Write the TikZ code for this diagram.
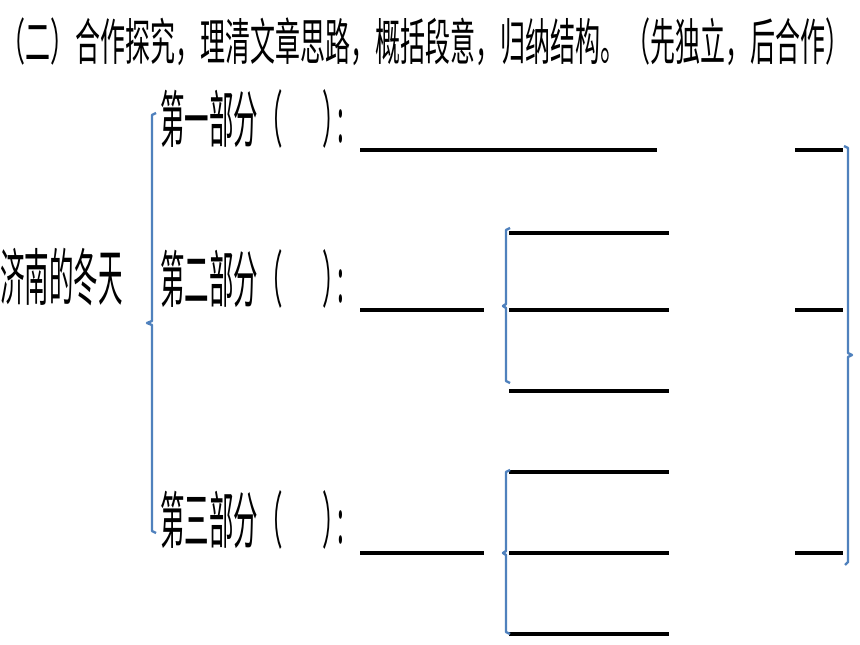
\documentclass[tikz,border=0pt]{standalone}
\usepackage{fontspec}
\newfontfamily\cjkT[FakeStretch=0.50]{Noto Sans CJK SC}
\newfontfamily\cjkL[FakeStretch=0.395]{Noto Sans CJK SC}
\definecolor{bracecol}{HTML}{4F81BD}
\begin{document}
\begin{tikzpicture}[x=1pt,y=-1pt,
  titletxt/.style={anchor=base west,inner sep=0pt,font=\cjkT\fontsize{50}{50}\selectfont},
  labtxt/.style={anchor=base west,inner sep=0pt,font=\cjkL\fontsize{62}{62}\selectfont},
  blank/.style={line width=4pt,black},
  bracket/.style={line width=2.4pt,bracecol,line join=round}]
\useasboundingbox (0,0) rectangle (860,645);
\fill[white] (0,0) rectangle (860,645);
% title
\node[titletxt] (title) at (0,60) {（二）合作探究，理清文章思路，概括段意，归纳结构。（先独立，后合作）};
% root
\node[labtxt] (root) at (0,300) {济南的冬天};
% parts
\node[labtxt] (p1) at (160,142) {第一部分（\hspace{40pt}）\hspace{-10pt}:};
\node[labtxt] (p2) at (160,302) {第二部分（\hspace{40pt}）\hspace{-10pt}:};
\node[labtxt] (p3) at (160,543) {第三部分（\hspace{40pt}）\hspace{-10pt}:};
% left brace
\draw[bracket] (156,113) -- (152,115) -- (152,321) -- (147,323) -- (152,325) -- (152,531) -- (156,533);
% row 1 blanks
\draw[blank] (360,150) -- (657,150);
\draw[blank] (795,150) -- (843,150);
% row 2 blanks
\draw[blank] (360,310) -- (484,310);
\draw[blank] (509,233) -- (669,233);
\draw[blank] (509,310) -- (669,310);
\draw[blank] (509,391) -- (669,391);
\draw[blank] (795,310) -- (843,310);
% row 2 brace
\draw[bracket] (510,228) -- (506,230) -- (506,304) -- (503,306) -- (506,308) -- (506,381) -- (510,383);
% row 3 blanks
\draw[blank] (360,553) -- (484,553);
\draw[blank] (509,472) -- (669,472);
\draw[blank] (509,553) -- (669,553);
\draw[blank] (509,634) -- (669,634);
\draw[blank] (795,553) -- (843,553);
% row 3 brace
\draw[bracket] (510,470) -- (506,472) -- (506,551) -- (503,553) -- (506,555) -- (506,632) -- (510,634);
% right brace
\draw[bracket] (844,146) -- (848,148) -- (848,353) -- (852,355) -- (848,357) -- (848,562) -- (845,565);
\end{tikzpicture}
\end{document}
